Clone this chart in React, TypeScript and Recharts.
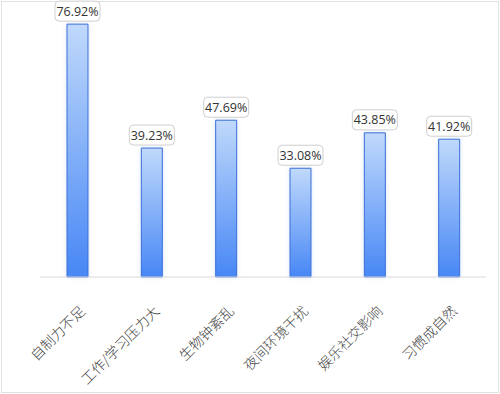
import React from 'react';
import { BarChart, Bar, XAxis, YAxis, LabelList } from 'recharts';

const categories = ['自制力不足', '工作/学习压力大', '生物钟紊乱', '夜间环境干扰', '娱乐社交影响', '习惯成自然'];
const values = [76.92, 39.23, 47.69, 33.08, 43.85, 41.92];

const data = categories.map((name, i) => ({ name, value: values[i] }));

const Tick = (props: any) => {
  const { x, y, payload } = props;
  return (
    <g transform={`translate(${x},${y})`}>
      <text
        x={0}
        y={0}
        dx={9}
        dy={27}
        transform="rotate(-45 9 27)"
        textAnchor="end"
        fill="#444"
        fontSize={14}
        fontFamily="'Noto Sans CJK SC', sans-serif"
        fontWeight={300}
      >
        {payload.value}
      </text>
    </g>
  );
};

const ValueLabel = (props: any) => {
  const { x, y, width, value } = props;
  const cx = x + width / 2;
  const w = 45;
  const h = 20;
  return (
    <g>
      <rect x={cx - w / 2} y={y - 3 - h} width={w} height={h} rx={4} ry={4} fill="#fff" stroke="#cfcfcf" strokeWidth={1} />
      <text x={cx} y={y - 3 - h / 2} dy={4.5} textAnchor="middle" fontSize={12.5} fill="#333" fontFamily="'Open Sans', sans-serif">
        {`${value.toFixed(2)}%`}
      </text>
    </g>
  );
};

export default function App() {
  return (
    <div style={{ position: 'absolute', left: 0, top: 0, width: 500, height: 394, background: '#fff' }}>
      <div style={{ position: 'absolute', left: 1, top: 1, width: 496, height: 390, border: '1px solid #e2e2e2' }} />
      <BarChart width={500} height={394} data={data} margin={{ top: 14, right: 14, left: 40, bottom: 0 }}>
        <defs>
          <linearGradient id="barGrad" x1="0" y1="0" x2="0" y2="1">
            <stop offset="0%" stopColor="#c0d9fb" />
            <stop offset="100%" stopColor="#4787f5" />
          </linearGradient>
          <filter id="glow" x="-50%" y="-10%" width="200%" height="120%">
            <feDropShadow dx="0" dy="0" stdDeviation="2" floodColor="#8fb3f0" floodOpacity="0.35" />
          </filter>
        </defs>
        <XAxis dataKey="name" axisLine={{ stroke: '#d9d9d9' }} tickLine={false} height={117} interval={0} tick={<Tick />} />
        <YAxis hide domain={[0, 80]} />
        <Bar dataKey="value" barSize={21} fill="url(#barGrad)" stroke="#3a6fd8" strokeWidth={1} filter="url(#glow)" isAnimationActive={false}>
          <LabelList dataKey="value" content={<ValueLabel />} />
        </Bar>
      </BarChart>
    </div>
  );
}
